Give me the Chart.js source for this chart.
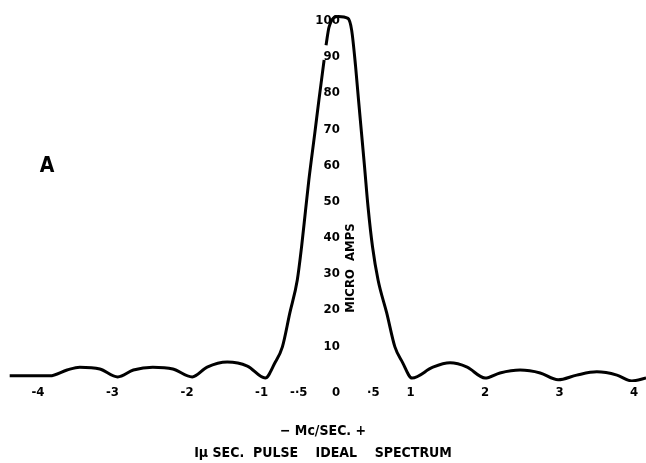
<!DOCTYPE html>
<html>
<head>
<meta charset="utf-8">
<script src="https://cdn.jsdelivr.net/npm/chart.js@4"></script>
<style>
  html, body { margin: 0; padding: 0; background: #fff; }
  #wrap { width: 646px; height: 463px; }
</style>
</head>
<body>
<div id="wrap"><canvas id="chart"></canvas></div>
<script>
const freqValues = [
  -4.38, -3.84, -3.61, -3.44, -3.17, -2.93, -2.72, -2.46, -2.19, -1.93,
  -1.73, -1.46, -1.19, -0.95, -0.82, -0.72, -0.62, -0.52, -0.463, -0.409,
  -0.365, -0.285, -0.23, -0.16, -0.15, -0.134, -0.094, 0.03, 0.16, 0.21,
  0.262, 0.302, 0.342, 0.383, 0.43, 0.49, 0.564, 0.68, 0.79, 0.89,
  1.02, 1.3, 1.53, 1.76, 2.0, 2.2, 2.47, 2.74, 2.98, 3.23,
  3.5, 3.77, 3.97, 4.16,
];
// null = the break in the drawn line behind the "90" label
const ampValues = [
  0.7, 0.7, 2.3, 3.1, 2.6, 0.4, 2.3, 3.1, 2.6, 0.4,
  3.1, 4.5, 3.4, 0.1, 4.3, 8.7, 18.1, 27.2, 36.3, 46.5,
  54.8, 67.8, 76.9, 88, null, 92.1, 97.1, 100, 99.5, 96.2,
  86.3, 76.9, 67.8, 58.4, 47.3, 36.3, 27.2, 18.1, 8.7, 4.5,
  0.1, 3.1, 4.3, 3.1, 0.1, 1.5, 2.3, 1.5, -0.4, 0.9,
  1.8, 0.9, -0.7, 0.1,
];
const xTickValues = [-4, -3, -2, -1, -0.5, 0, 0.5, 1, 2, 3, 4];
const xTickLabels = ["-4", "-3", "-2", "-1", "-·5", "0", "·5", "1", "2", "3", "4"];
const yTickValues = [10, 20, 30, 40, 50, 60, 70, 80, 90, 100];

const labelFont = "'DejaVu Sans Condensed', 'DejaVu Sans', sans-serif";

const points = freqValues.map((x, idx) => ({ x: x, y: ampValues[idx] }));

// free text: the panel letter and the rotated unit next to the y labels
const notes = {
  id: "notes",
  afterDraw(chart) {
    const ctx = chart.ctx;
    ctx.save();
    ctx.fillStyle = "#000";
    ctx.textAlign = "center";
    ctx.textBaseline = "middle";
    ctx.font = "bold 21px " + labelFont;
    ctx.fillText("A", 47, 167);
    ctx.translate(351, 268);
    ctx.rotate(-Math.PI / 2);
    ctx.font = "bold 13px " + labelFont;
    ctx.fillText("MICRO  AMPS", 0, 0);
    ctx.restore();
  },
};

new Chart(document.getElementById("chart"), {
  type: "line",
  data: {
    datasets: [
      {
        data: points,
        borderColor: "#000",
        borderWidth: 3,
        pointRadius: 0,
        cubicInterpolationMode: "monotone",
        spanGaps: false,
        fill: false,
      },
    ],
  },
  options: {
    responsive: true,
    maintainAspectRatio: false,
    animation: false,
    layout: { padding: { top: 13, left: 0, right: 0, bottom: 0 } },
    plugins: { legend: { display: false }, tooltip: { enabled: false } },
    scales: {
      x: {
        type: "linear",
        min: -4.51,
        max: 4.16,
        grid: { display: false, drawTicks: false },
        border: { display: false },
        afterBuildTicks: (scale) => {
          scale.ticks = xTickValues.map((v) => ({ value: v }));
        },
        afterFit: (scale) => {
          scale.height = 81;
        },
        ticks: {
          color: "#000",
          padding: 3,
          maxRotation: 0,
          autoSkip: false,
          font: { family: labelFont, size: 13, weight: "bold" },
          callback: (value) => xTickLabels[xTickValues.indexOf(value)],
        },
        title: {
          display: true,
          text: ["− Mc/SEC. +", "Iμ SEC.  PULSE    IDEAL    SPECTRUM"],
          color: "#000",
          padding: { top: 0, bottom: -2 },
          font: { family: labelFont, size: 14, weight: "bold", lineHeight: 1.6 },
        },
      },
      y: {
        type: "linear",
        position: { x: 0.05 },
        min: -1,
        max: 101,
        grid: { display: false, drawTicks: false },
        border: { display: false },
        afterBuildTicks: (scale) => {
          scale.ticks = yTickValues.map((v) => ({ value: v }));
        },
        ticks: {
          color: "#000",
          padding: 0,
          labelOffset: 4,
          font: { family: labelFont, size: 13, weight: "bold" },
        },
      },
    },
  },
  plugins: [notes],
});
</script>
</body>
</html>
